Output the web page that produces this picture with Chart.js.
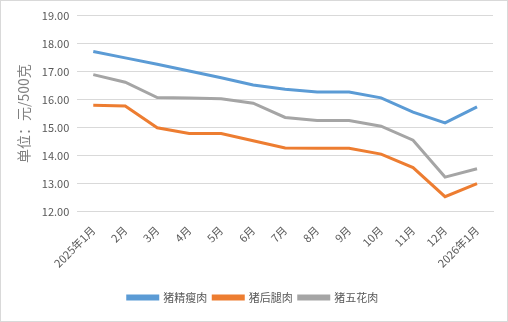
<!DOCTYPE html>
<html>
<head>
<meta charset="utf-8">
<script src="https://cdn.jsdelivr.net/npm/chart.js@4"></script>
<style>
  html, body { margin: 0; padding: 0; background: #fff; }
  #wrap { position: relative; width: 506px; height: 320px; border: 1px solid #d9d9d9; }
</style>
</head>
<body>
<div id="wrap"><canvas id="grafico"></canvas></div>
<script>
// 月份与三种猪肉零售价（元/500克）
const meses = ['2025年1月', '2月', '3月', '4月', '5月', '6月', '7月', '8月', '9月', '10月', '11月', '12月', '2026年1月'];
const jingshou = [17.72, 17.49, 17.26, 17.02, 16.78, 16.52, 16.37, 16.27, 16.27, 16.06, 15.55, 15.17, 15.74];
const houtui = [15.80, 15.77, 14.99, 14.79, 14.79, 14.53, 14.27, 14.26, 14.26, 14.05, 13.57, 12.53, 13.00];
const wuhua = [16.89, 16.62, 16.07, 16.06, 16.03, 15.87, 15.36, 15.25, 15.25, 15.05, 14.55, 13.23, 13.53];
const yMin = 12, yMax = 19;

const fuente = '"Noto Sans CJK SC", "Noto Sans", sans-serif';

function serie(label, data, color) {
    return {
        label: label,
        data: data,
        borderColor: color,
        backgroundColor: color,
        borderWidth: 3,
        pointRadius: 0,
        tension: 0,
        fill: false
    };
}

new Chart(document.getElementById('grafico'), {
    type: 'line',
    data: {
        labels: meses,
        datasets: [
            serie('猪精瘦肉', jingshou, '#5b9bd5'),
            serie('猪后腿肉', houtui, '#ed7d31'),
            serie('猪五花肉', wuhua, '#a5a5a5')
        ]
    },
    options: {
        responsive: true,
        maintainAspectRatio: false,
        animation: false,
        layout: { padding: { left: 12, right: 14, top: 8, bottom: 8 } },
        plugins: {
            legend: {
                position: 'bottom',
                labels: {
                    boxWidth: 30,
                    boxHeight: 3,
                    padding: 6,
                    color: '#595959',
                    font: { family: fuente, size: 11 }
                }
            },
            tooltip: { enabled: false }
        },
        scales: {
            x: {
                offset: true,
                grid: { display: false },
                border: { display: true, color: '#d9d9d9' },
                ticks: {
                    minRotation: 45,
                    maxRotation: 45,
                    autoSkip: false,
                    color: '#595959',
                    padding: 4,
                    font: { family: fuente, size: 11 }
                },
                // 标签与图例之间留白
                afterFit: function(scale) {
                    scale.height += 12;
                }
            },
            y: {
                min: yMin,
                max: yMax,
                grid: { color: '#d9d9d9', drawTicks: false },
                border: { display: false },
                ticks: {
                    stepSize: 1,
                    color: '#595959',
                    padding: 8,
                    font: { family: fuente, size: 11 },
                    callback: function(value) {
                        return value.toFixed(2);
                    }
                },
                title: {
                    display: true,
                    text: '单位：元/500克',
                    color: '#808080',
                    padding: 2,
                    font: { family: fuente, size: 14 }
                }
            }
        }
    }
});
</script>
</body>
</html>
